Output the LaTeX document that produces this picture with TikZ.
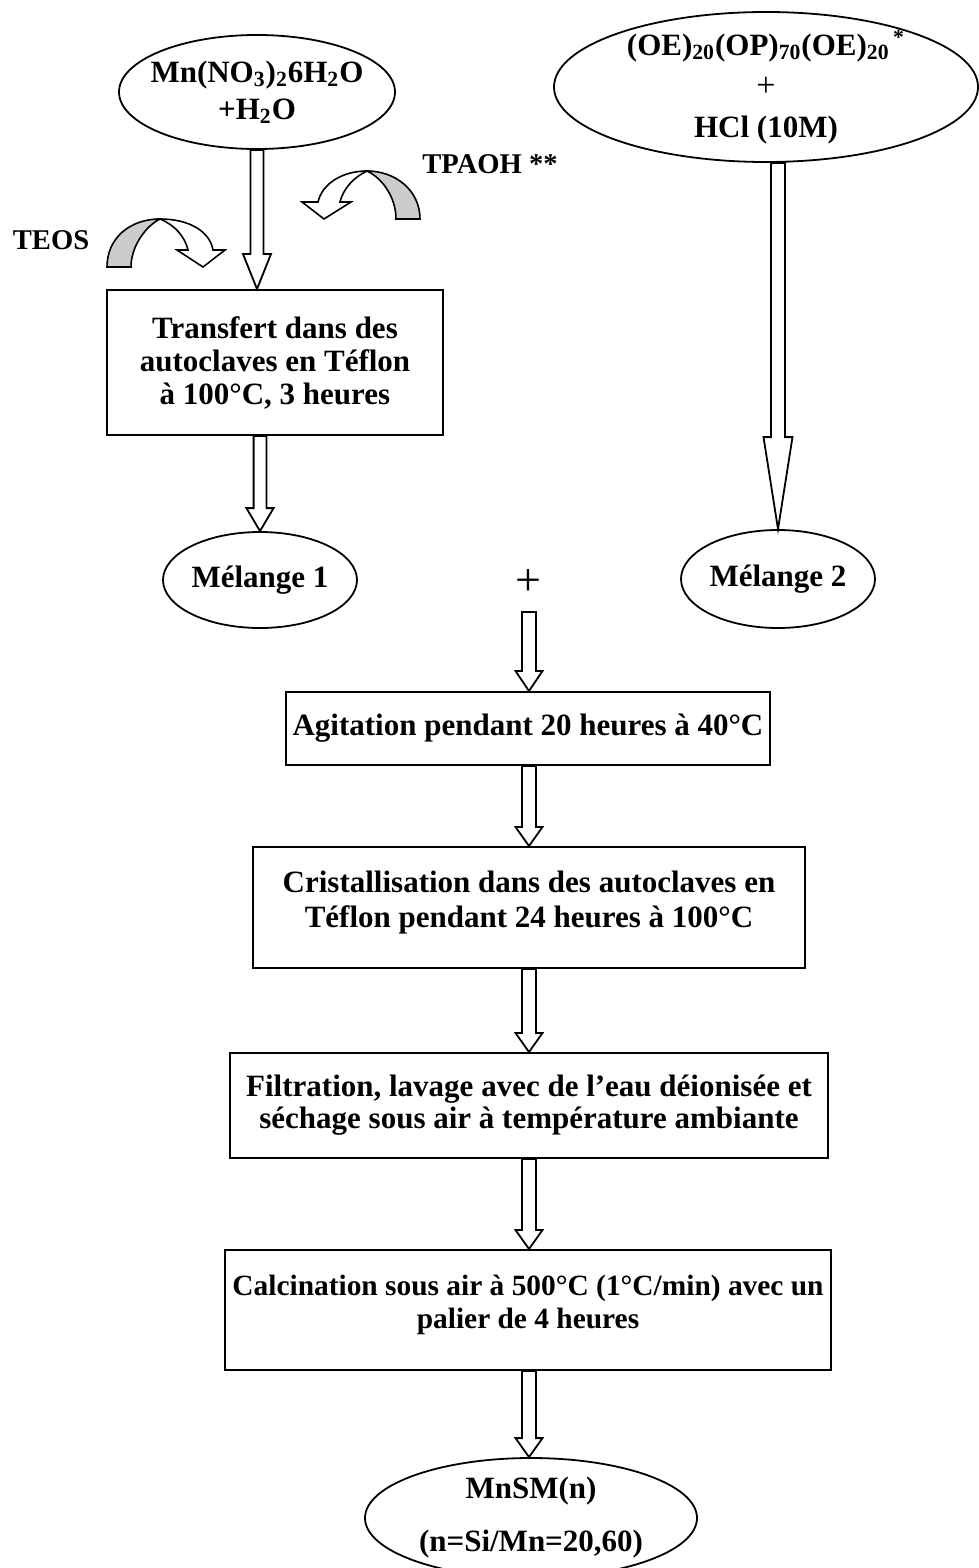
\documentclass[tikz,border=0pt]{standalone}
\usepackage{fontspec}
\setmainfont{Liberation Serif}
\usetikzlibrary{shapes.geometric,calc,positioning}

% block arrow: start, tip, half shaft, half head, head length
\newcommand\hollowarrow[5]{%
  \path[arrowbody] let \p1=#1, \p2=#2 in
    (\x2-#3,\y1) -- (\x2-#3,\y2+#5) -- (\x2-#4,\y2+#5) -- (\x2,\y2)
    -- (\x2+#4,\y2+#5) -- (\x2+#3,\y2+#5) -- (\x2+#3,\y1) -- cycle;}

\begin{document}
\begin{tikzpicture}[x=0.5pt, y=-0.5pt, font=\bfseries\fontsize{15.5}{16.5}\selectfont,
  blob/.style={draw, ellipse, line width=0.9pt, inner sep=-15pt, align=center},
  stagebox/.style={draw, rectangle, line width=1pt, inner sep=0pt, align=center},
  arrowbody/.style={draw, line width=0.9pt, fill=white, line join=miter},
  curlarrow/.style={draw, line width=0.8pt, line join=miter},
  tag/.style={font=\bfseries\fontsize{14.3}{15}\selectfont}]

  \colorlet{bandgray}{gray!40}

\useasboundingbox (0,0) rectangle (979,1568);

% the two starting solutions
\node[blob, minimum width=138pt, minimum height=57pt, font=\bfseries\fontsize{15.5}{18.5}\selectfont] (mn) at (257,92)
  {Mn(NO\textsubscript{3})\textsubscript{2}6H\textsubscript{2}O\\+H\textsubscript{2}O};
\node[blob, minimum width=212pt, minimum height=75pt, font=\bfseries\fontsize{15.5}{20.5}\selectfont] (peo) at (766,87)
  {(OE)\textsubscript{20}(OP)\textsubscript{70}(OE)\textsubscript{20}\textsuperscript{\,*}\\{\mdseries\fontsize{17}{17}\selectfont+}\\HCl (10M)};

% additions
\node[tag] (teos) at (51,240) {TEOS};
\node[tag] (tpaoh) at (490,164) {TPAOH **};

\node[stagebox, minimum width=168pt, minimum height=72.5pt] (auto) at (275,362.5)
  {Transfert dans des\\autoclaves en Téflon\\à 100°C, 3 heures};

\node[blob, minimum width=97pt, minimum height=48pt] (mel1) at (260,580) {Mélange 1};
\node[blob, minimum width=97pt, minimum height=49pt] (mel2) at (778,579) {Mélange 2};
\node[font=\mdseries\fontsize{23}{23}\selectfont] (plus) at (528,583) {+};
\coordinate (plusfoot) at (529,612);

% main line
\node[stagebox, minimum width=242pt, minimum height=36.5pt] (agit) at (528,728.5)
  {Agitation pendant 20 heures à 40°C};
\node[stagebox, minimum width=276pt, minimum height=60.5pt, font=\bfseries\fontsize{15.5}{17.5}\selectfont] (crist) at (529,907.5)
  {Cristallisation dans des autoclaves en\\Téflon pendant 24 heures à 100°C\\[-9.5pt]};
\node[stagebox, minimum width=299pt, minimum height=52.5pt, font=\bfseries\fontsize{15.5}{16}\selectfont] (filt) at (529,1105.5)
  {Filtration, lavage avec de l’eau déionisée et\\séchage sous air à température ambiante};
\node[stagebox, minimum width=303pt, minimum height=60pt, font=\bfseries\fontsize{14.7}{16.5}\selectfont] (calc) at (528,1310)
  {Calcination sous air à 500°C (1°C/min) avec un\\palier de 4 heures\\[-8pt]};
\node[blob, minimum width=166pt, minimum height=60pt, font=\bfseries\fontsize{15.5}{26.5}\selectfont] (mnsm) at (531,1518)
  {MnSM(n)\\(n=Si/Mn=20,60)};

% block arrows
\hollowarrow{(mn.south)}{(auto.north -| mn.south)}{3.25pt}{7pt}{17.5pt}
\hollowarrow{(auto.south -| mel1.north)}{(mel1.north)}{3.2pt}{6.8pt}{11.5pt}
\hollowarrow{(peo.south -| mel2.north)}{(mel2.north)}{3.5pt}{7.25pt}{46pt}
\hollowarrow{(plusfoot)}{(agit.north -| plusfoot)}{3.5pt}{6.75pt}{10pt}
\hollowarrow{(agit.south)}{(crist.north -| plusfoot)}{3.5pt}{6.75pt}{9.5pt}
\hollowarrow{(crist.south)}{(filt.north -| plusfoot)}{3.5pt}{6.75pt}{9.5pt}
\hollowarrow{(filt.south)}{(calc.north -| plusfoot)}{3.5pt}{6.75pt}{9.5pt}
\hollowarrow{(calc.south)}{(mnsm.north -| plusfoot)}{3.5pt}{6.75pt}{9.5pt}

% curved arrows (TEOS, TPAOH)
\path[curlarrow, fill=bandgray] (107,267) .. controls (107,238) and (130,219) .. (160,219)
  .. controls (146,226) and (131,246) .. (131,267) -- cycle;
\path[curlarrow, fill=white] (160,219) .. controls (190,219) and (210,232) .. (213,250)
  -- (225,250) -- (203,267) -- (177,250) -- (188,250)
  .. controls (185,237) and (175,225) .. (160,219) -- cycle;

\path[curlarrow, fill=bandgray] (420,219) .. controls (420,190) and (395,171) .. (367,171)
  .. controls (382,178) and (396,197) .. (396,219) -- cycle;
\path[curlarrow, fill=white] (367,171) .. controls (342,171) and (322,184) .. (318,202)
  -- (302,202) -- (324,219) -- (351,202) -- (340,202)
  .. controls (343,189) and (354,177) .. (367,171) -- cycle;

\end{tikzpicture}
\end{document}
